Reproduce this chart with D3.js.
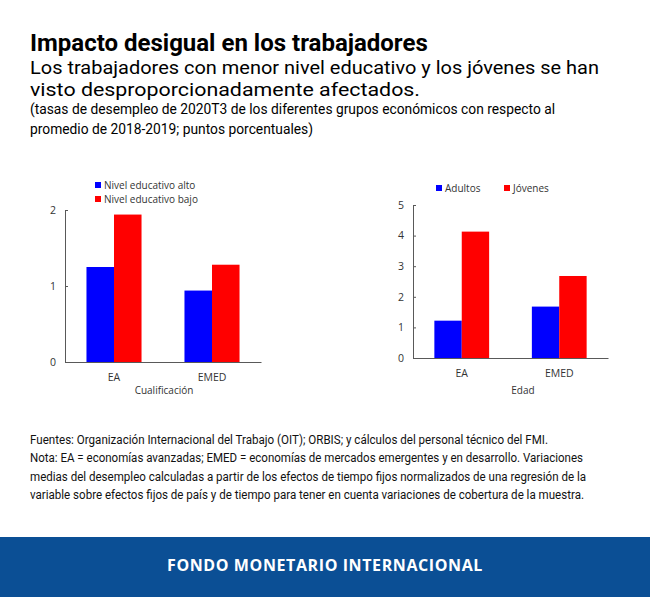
<!DOCTYPE html>
<html>
<head>
<meta charset="utf-8">
<script src="https://cdn.jsdelivr.net/npm/d3@7"></script>
<style>
  html, body { margin: 0; padding: 0; background: #fff; }
  svg { display: block; }
  .axis-label { font-family: "Open Sans", sans-serif; font-size: 10.5px; fill: #333; }
</style>
</head>
<body>
<div id="chart"></div>
<script>
// categories and series
const categories = ['EA', 'EMED'];

const eduSeries = ['Nivel educativo alto', 'Nivel educativo bajo'];
const eduAlto = [1.25, 0.94];
const eduBajo = [1.94, 1.28];
const eduTicks = [0, 1, 2];

const ageSeries = ['Adultos', 'Jóvenes'];
const adultos = [1.22, 1.68];
const jovenes = [4.13, 2.68];
const ageTicks = [0, 1, 2, 3, 4, 5];

const seriesColors = ['#0000ff', '#ff0000'];

const titleText = 'Impacto desigual en los trabajadores';
const subtitleLines = [
  'Los trabajadores con menor nivel educativo y los jóvenes se han',
  'visto desproporcionadamente afectados.'
];
const subtitleWidths = [569, 390];
const noteLines = [
  '(tasas de desempleo de 2020T3 de los diferentes grupos económicos con respecto al',
  'promedio de 2018-2019; puntos porcentuales)'
];
const footnoteLines = [
  'Fuentes: Organización Internacional del Trabajo (OIT); ORBIS; y cálculos del personal técnico del FMI.',
  'Nota: EA = economías avanzadas; EMED = economías de mercados emergentes y en desarrollo. Variaciones',
  'medias del desempleo calculadas a partir de los efectos de tiempo fijos normalizados de una regresión de la',
  'variable sobre efectos fijos de país y de tiempo para tener en cuenta variaciones de cobertura de la muestra.'
];
const footnoteWidths = [518, 553, 556, 554];
const bannerText = 'FONDO MONETARIO INTERNACIONAL';

const width = 650;
const height = 597;

const svg = d3.select('#chart').append('svg')
  .attr('width', width)
  .attr('height', height);

// multi-line text block as one <text> with tspans
function textBlock(lines, x, y0, lineH, style) {
  const t = svg.append('text')
    .style('font-family', style.family || 'Roboto, sans-serif')
    .style('font-size', style.size)
    .style('font-weight', style.weight || 400)
    .attr('fill', style.fill || '#000');
  t.selectAll('tspan')
    .data(lines)
    .enter()
    .append('tspan')
    .attr('x', x)
    .attr('y', (d, i) => y0 + i * lineH)
    .text(d => d);
  if (style.widths) {
    t.selectAll('tspan')
      .attr('textLength', (d, i) => style.widths[i])
      .attr('lengthAdjust', 'spacingAndGlyphs');
  }
  return t;
}

// header
textBlock([titleText], 30, 50.5, 0, { size: '24px', weight: 700 });
textBlock(subtitleLines, 30, 74, 22, { size: '19px', widths: subtitleWidths });
textBlock(noteLines, 30, 113.5, 20, { size: '13.8px' });

// grouped bar panel
function drawPanel(opts) {
  const g = svg.append('g');
  const rows = opts.series.map((s, i) => ({ name: s, values: opts.values[i] }));

  const x0 = d3.scaleBand()
    .domain(categories)
    .range([opts.left, opts.right])
    .padding(0);

  const x1 = d3.scaleBand()
    .domain(opts.series)
    .range([0, x0.bandwidth()])
    .paddingInner(0)
    .paddingOuter(0.78);

  const y = d3.scaleLinear()
    .domain([0, d3.max(opts.ticks)])
    .range([opts.bottom, opts.top]);

  // bars
  rows.forEach((row, si) => {
    g.selectAll(null)
      .data(row.values)
      .enter()
      .append('rect')
      .attr('x', (d, ci) => x0(categories[ci]) + x1(row.name))
      .attr('y', d => y(d))
      .attr('width', x1.bandwidth())
      .attr('height', d => y(0) - y(d))
      .attr('fill', seriesColors[si]);
  });

  // axes
  const gy = g.append('g')
    .attr('transform', `translate(${opts.left},0)`)
    .call(d3.axisLeft(y).tickValues(opts.ticks).tickFormat(d3.format('d'))
      .tickSize(-3).tickSizeOuter(0).tickPadding(9));
  gy.select('.domain').attr('stroke', '#595959');
  gy.selectAll('.tick line').attr('stroke', '#595959');
  gy.selectAll('text').attr('class', 'axis-label');

  const gx = g.append('g')
    .attr('transform', `translate(0,${opts.bottom})`)
    .call(d3.axisBottom(x0).tickSize(0).tickSizeOuter(0).tickPadding(12));
  gx.select('.domain').attr('stroke', '#595959');
  gx.selectAll('text').attr('class', 'axis-label');

  g.append('text')
    .attr('class', 'axis-label')
    .attr('x', opts.xTitleX)
    .attr('y', 394)
    .style('font-size', '10px')
    .attr('text-anchor', 'middle')
    .text(opts.xTitle);

  // legend
  const lg = g.selectAll('.legend-item')
    .data(opts.series)
    .enter()
    .append('g')
    .attr('class', 'legend-item')
    .attr('transform', (d, i) => `translate(${opts.legend[i][0]},${opts.legend[i][1]})`);
  lg.append('rect')
    .attr('x', 0).attr('y', -3)
    .attr('width', 6).attr('height', 6)
    .attr('fill', (d, i) => seriesColors[i]);
  lg.append('text')
    .attr('class', 'axis-label')
    .attr('x', 9).attr('y', 3.5)
    .style('font-size', '10px')
    .text(d => d);
}

drawPanel({
  series: eduSeries,
  values: [eduAlto, eduBajo],
  ticks: eduTicks,
  left: 65, right: 261, top: 210, bottom: 362,
  xTitle: 'Cualificación', xTitleX: 164,
  legend: [[95, 185], [95, 199]]
});

drawPanel({
  series: ageSeries,
  values: [adultos, jovenes],
  ticks: ageTicks,
  left: 413, right: 608, top: 205, bottom: 358,
  xTitle: 'Edad', xTitleX: 523,
  legend: [[436, 188], [504, 188]]
});

// footnotes (condensed look via textLength)
textBlock(footnoteLines, 30, 443.5, 18.5, { size: '12.5px', fill: '#111', widths: footnoteWidths });

// banner
svg.append('rect')
  .attr('x', 0).attr('y', 537)
  .attr('width', width).attr('height', height - 537)
  .attr('fill', '#0b4f95');

svg.append('text')
  .attr('x', width / 2).attr('y', 570.5)
  .attr('text-anchor', 'middle')
  .style('font-family', '"Open Sans", sans-serif')
  .style('font-weight', 700)
  .style('font-size', '16px')
  .style('letter-spacing', '0.6px')
  .attr('fill', '#fff')
  .text(bannerText);
</script>
</body>
</html>
